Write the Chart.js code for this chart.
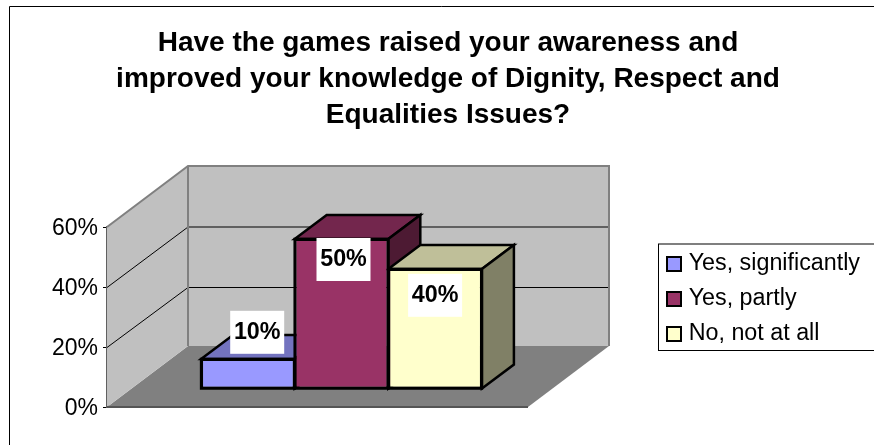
<!DOCTYPE html>
<html>
<head>
<meta charset="utf-8">
<title>Dignity, Respect and Equalities</title>
<script src="https://cdn.jsdelivr.net/npm/chart.js@4"></script>
<style>
  html, body { margin: 0; padding: 0; background: #fff; }
  #wrap { width: 874px; height: 445px; overflow: hidden; }
</style>
</head>
<body>
<div id="wrap"><canvas id="gamesChart" width="874" height="445"></canvas></div>
<script>
const titleLines = [
  "Have the games raised your awareness and",
  "improved your knowledge of Dignity, Respect and",
  "Equalities Issues?"
];
const seriesNames = ["Yes, significantly", "Yes, partly", "No, not at all"];
const seriesValues = [10, 50, 40];
const categories = [""];
const axisMax = 60;
const axisStep = 20;

const frontColors = ["#9999FF", "#993366", "#FFFFCC"];
const topColors = ["#7373BF", "#73264D", "#BFBF99"];
const sideColors = ["#4D1A33", "#4D1A33", "#808066"];

// the fake 3d box, px offsets from the front plane
const wall = { dx: 81, dy: 61 };
const barShift = { dx: 24, dy: 18 };
const barDepth = { dx: 32, dy: 24 };
const labelNudge = [{ x: 9.3, y: -26.7 }, { x: 2, y: 20.5 }, { x: 0, y: 26.3 }];
const FONT = '"Liberation Sans", Arial, sans-serif';

function poly(ctx, pts, fill, stroke, lw) {
  ctx.beginPath();
  pts.forEach((p, i) => i ? ctx.lineTo(p[0], p[1]) : ctx.moveTo(p[0], p[1]));
  ctx.closePath();
  if (fill) { ctx.fillStyle = fill; ctx.fill(); }
  if (stroke) { ctx.strokeStyle = stroke; ctx.lineWidth = lw; ctx.lineJoin = 'miter'; ctx.stroke(); }
}

// corners of a bar's front face, moved off the front plane
function barFront(bar) {
  return {
    x0: bar.x - bar.width / 2 + barShift.dx,
    x1: bar.x + bar.width / 2 + barShift.dx,
    yTop: bar.y - barShift.dy,
    yBase: bar.base - barShift.dy
  };
}

const box3d = {
  id: 'box3d',
  afterLayout(chart) {
    // title spans the frame, legend sits right of the plot
    chart.titleBlock.left = 22;
    chart.titleBlock.right = 874;
    chart.legend.left = 659.3;
    chart.legend.right = 874;
    chart.legend.top = 240.6;
    chart.legend.bottom = 445;
  },
  beforeDraw(chart) {
    const ctx = chart.ctx;
    ctx.save();
    // outer frame only shows top and left, the rest is cropped away
    ctx.strokeStyle = '#000';
    ctx.lineWidth = 1;
    ctx.beginPath();
    ctx.moveTo(9.5, 445);
    ctx.lineTo(9.5, 6.5);
    ctx.lineTo(874, 6.5);
    ctx.stroke();
    ctx.strokeRect(658.5, 244, 300, 106.5);
    ctx.restore();
  },
  beforeDatasetsDraw(chart) {
    const ctx = chart.ctx;
    const y = chart.scales.y;
    const { left, right, top, bottom } = chart.chartArea;
    const d = wall;
    ctx.save();
    // floor
    poly(ctx, [[left, bottom], [right, bottom], [right + d.dx, bottom - d.dy], [left + d.dx, bottom - d.dy]], '#808080');
    // left wall and back wall
    poly(ctx, [[left, bottom], [left, top], [left + d.dx, top - d.dy], [left + d.dx, bottom - d.dy]], '#C0C0C0');
    poly(ctx, [[left + d.dx, top - d.dy], [right + d.dx, top - d.dy], [right + d.dx, bottom - d.dy], [left + d.dx, bottom - d.dy]], '#C0C0C0');
    // gridlines follow the wall, the upper one lands between two pixel rows in the original
    y.ticks.forEach(t => {
      if (t.value === 0 || t.value === axisMax) return;
      const py = y.getPixelForValue(t.value);
      const backY = py - d.dy + (t.value === 40 ? 1 : 1.5);
      ctx.strokeStyle = '#000';
      ctx.lineWidth = 1;
      ctx.beginPath();
      ctx.moveTo(left, py + 0.5);
      ctx.lineTo(left + d.dx, backY);
      ctx.lineTo(right + d.dx, backY);
      ctx.stroke();
    });
    // wall edges
    ctx.strokeStyle = '#808080';
    ctx.lineWidth = 2;
    ctx.beginPath();
    ctx.moveTo(left, top);
    ctx.lineTo(left + d.dx, top - d.dy);
    ctx.lineTo(right + d.dx, top - d.dy);
    ctx.lineTo(right + d.dx, bottom - d.dy);
    ctx.moveTo(left + d.dx, top - d.dy);
    ctx.lineTo(left + d.dx, bottom - d.dy);
    ctx.stroke();
    ctx.strokeStyle = '#555';
    ctx.beginPath();
    ctx.moveTo(left, bottom);
    ctx.lineTo(right, bottom);
    ctx.stroke();
    // top and side faces left to right, the fronts go over them afterwards
    seriesValues.forEach((v, i) => {
      const f = barFront(chart.getDatasetMeta(i).data[0]);
      const b = barDepth;
      poly(ctx, [[f.x0, f.yTop], [f.x0 + b.dx, f.yTop - b.dy], [f.x1 + b.dx, f.yTop - b.dy], [f.x1, f.yTop]], topColors[i], '#000', 2.5);
      poly(ctx, [[f.x1, f.yTop], [f.x1 + b.dx, f.yTop - b.dy], [f.x1 + b.dx, f.yBase - b.dy], [f.x1, f.yBase]], sideColors[i], '#000', 2.5);
    });
    ctx.restore();
  },
  beforeDatasetDraw(chart) {
    chart.ctx.save();
    chart.ctx.translate(barShift.dx, -barShift.dy);
  },
  afterDatasetDraw(chart, args) {
    const ctx = chart.ctx;
    ctx.restore();
    // outline sits on the edge of the face like the original, not inside it
    const f = barFront(chart.getDatasetMeta(args.index).data[0]);
    ctx.save();
    ctx.strokeStyle = '#000';
    ctx.lineWidth = 2.5;
    ctx.strokeRect(f.x0, f.yTop, f.x1 - f.x0, f.yBase - f.yTop);
    ctx.restore();
  },
  afterDatasetsDraw(chart) {
    const ctx = chart.ctx;
    ctx.save();
    ctx.font = 'bold 23.3px ' + FONT;
    ctx.textAlign = 'center';
    ctx.textBaseline = 'middle';
    seriesValues.forEach((v, i) => {
      const bar = chart.getDatasetMeta(i).data[0];
      const cx = bar.x + barShift.dx + labelNudge[i].x;
      const cy = bar.y - barShift.dy + labelNudge[i].y;
      ctx.fillStyle = '#fff';
      ctx.fillRect(cx - 27, cy - 21.5, 54, 43);
      ctx.fillStyle = '#000';
      ctx.fillText(v + '%', cx, cy);
    });
    ctx.restore();
  }
};

new Chart(document.getElementById('gamesChart'), {
  type: 'bar',
  data: {
    labels: categories,
    datasets: seriesNames.map((name, i) => ({
      label: name,
      data: [seriesValues[i]],
      backgroundColor: frontColors[i],
      borderColor: '#000',
      borderWidth: 2,
      borderSkipped: false,
      categoryPercentage: 0.667,
      barPercentage: 1,
      clip: false
    }))
  },
  plugins: [box3d],
  options: {
    responsive: false,
    animation: false,
    devicePixelRatio: 1,
    layout: { padding: { left: 0, right: 346, top: 0, bottom: 38 } },
    scales: {
      x: { display: false },
      y: {
        min: 0,
        max: axisMax,
        afterFit(scale) { scale.width = 107; },
        ticks: {
          stepSize: axisStep,
          padding: 5,
          labelOffset: 2,
          color: '#000',
          font: { family: FONT, size: 23 },
          callback: v => v + '%'
        },
        grid: { drawOnChartArea: false, tickLength: 4, color: '#000' },
        border: { color: '#606060', width: 3 }
      }
    },
    plugins: {
      tooltip: { enabled: false },
      title: {
        display: true,
        text: titleLines,
        color: '#000',
        font: { family: FONT, size: 28, weight: 'bold', lineHeight: '36px' },
        padding: { top: 25, bottom: 94 }
      },
      legend: {
        position: 'chartArea',
        align: 'start',
        labels: {
          color: '#000',
          font: { family: FONT, size: 23.3 },
          usePointStyle: true,
          pointStyle: 'rect',
          boxWidth: 6,
          boxHeight: 14,
          padding: 11.7
        }
      }
    }
  }
});
</script>
</body>
</html>
